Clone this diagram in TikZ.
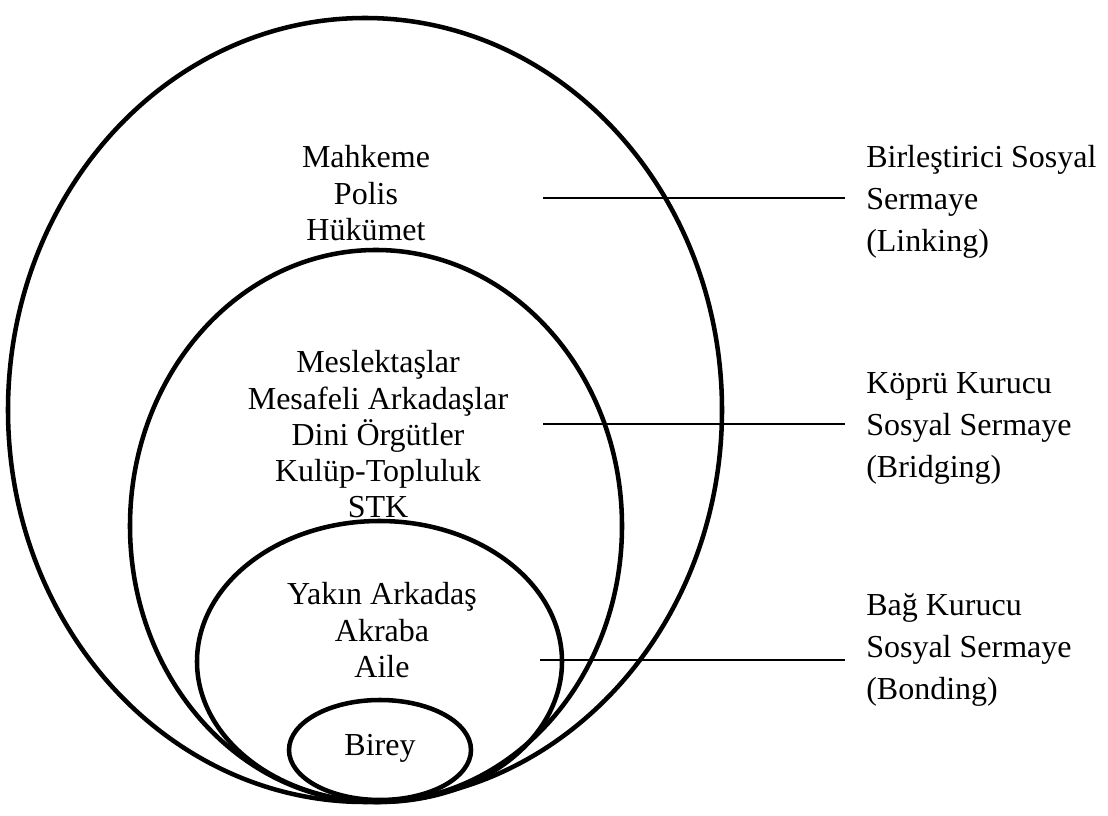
\documentclass[tikz,border=0pt]{standalone}
\usepackage{fontspec}
\setmainfont{Liberation Serif}
\begin{document}
\begin{tikzpicture}[x=0.75pt,y=-0.75pt,
  ring/.style={line width=3.4pt},
  tie/.style={line width=2pt},
  lbl/.style={inner sep=0pt,font=\fontsize{24}{28}\selectfont,anchor=base},
  side/.style={lbl,anchor=base west}]
\useasboundingbox (0,0) rectangle (1108,816);

% nested circles of social capital
\coordinate (linkc) at (365,410);
\coordinate (bridc) at (376,526);
\coordinate (bondc) at (379.5,661.5);
\coordinate (selfc) at (380,750);
\draw[ring] (linkc) ellipse [x radius=357, y radius=392];
\draw[ring] (bridc) ellipse [x radius=246, y radius=276];
\draw[ring] (bondc) ellipse [x radius=182.5, y radius=140.5];
\draw[ring] (selfc) ellipse [x radius=91, y radius=50];

% labels inside the circles
\foreach \t [count=\i] in {Mahkeme,Polis,Hükümet}
  \node[lbl] (link-\i) at (366,{168+36.5*(\i-1)}) {\t};
\foreach \t [count=\i] in {Meslektaşlar,Mesafeli Arkadaşlar,Dini Örgütler,Kulüp-Topluluk,STK}
  \node[lbl] (brid-\i) at (378,{373+36.25*(\i-1)}) {\t};
\foreach \t [count=\i] in {Yakın Arkadaş,Akraba,Aile}
  \node[lbl] (bond-\i) at (382,{605+36.5*(\i-1)}) {\t};
\node[lbl] (self) at (380,755) {Birey};

% captions on the right
\foreach \t [count=\i] in {Birleştirici Sosyal,Sermaye,(Linking)}
  \node[side] (linkcap-\i) at (866,{168+42*(\i-1)}) {\t};
\foreach \t [count=\i] in {Köprü Kurucu,Sosyal Sermaye,(Bridging)}
  \node[side] (bridcap-\i) at (866,{394+42*(\i-1)}) {\t};
\foreach \t [count=\i] in {Bağ Kurucu,Sosyal Sermaye,(Bonding)}
  \node[side] (bondcap-\i) at (866,{616+42*(\i-1)}) {\t};

% connectors from the circles to the captions
\coordinate (linkA) at (543,198);
\coordinate (linkB) at (845,198);
\coordinate (bridA) at (543,424);
\coordinate (bridB) at (845,424);
\coordinate (bondA) at (540,660);
\coordinate (bondB) at (845,660);
\draw[tie] (linkA) -- (linkB);
\draw[tie] (bridA) -- (bridB);
\draw[tie] (bondA) -- (bondB);
\end{tikzpicture}
\end{document}
